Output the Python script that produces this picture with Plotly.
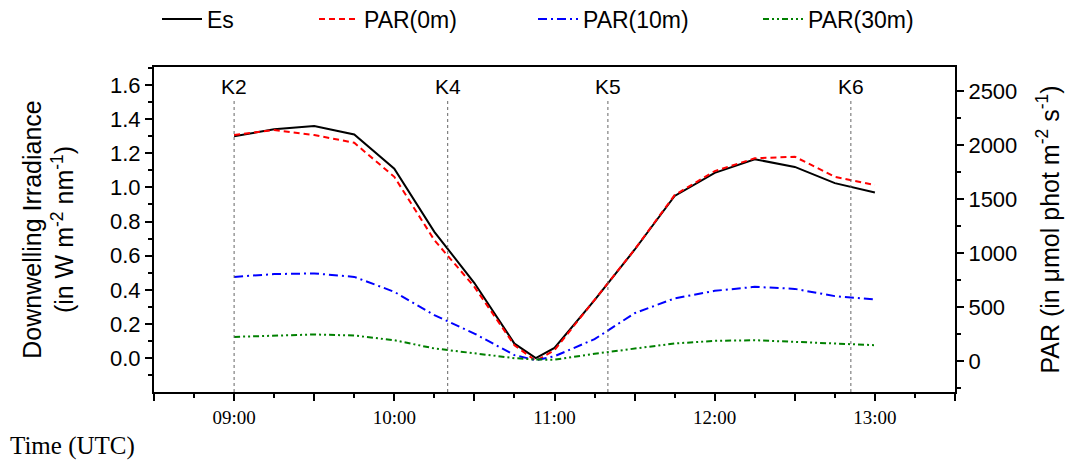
import plotly.graph_objects as go

# ---- data ----
times = ["09:00", "09:15", "09:30", "09:45", "10:00", "10:15", "10:30", "10:45", "10:53",
         "11:00", "11:15", "11:30", "11:45", "12:00", "12:15", "12:30", "12:45", "13:00"]
es = [1.30, 1.34, 1.36, 1.31, 1.11, 0.74, 0.44, 0.085, 0.0,
      0.06, 0.34, 0.635, 0.95, 1.085, 1.165, 1.12, 1.025, 0.97]
par0 = [2093, 2139, 2093, 2021, 1706, 1120, 688, 148, 3,
        102, 567, 1033, 1537, 1759, 1877, 1892, 1706, 1630]
par10 = [780, 806, 812, 780, 642, 426, 256, 56, 9,
         46, 204, 444, 581, 651, 688, 669, 602, 571]
par30 = [225, 238, 247, 238, 194, 118, 75, 28, 15,
         14, 69, 116, 164, 188, 194, 179, 164, 148]
k_labels = ["K2", "K4", "K5", "K6"]
k_times = ["09:00", "10:20", "11:20", "12:51"]

DAY = "2024-01-01 "
xt = [DAY + t for t in times]

SANS = "Liberation Sans"
SERIF = "Liberation Serif"

OFF = 8  # page body margin
W, H = 1068, 454
L, T = 154 - OFF, 67 - OFF
pw, ph = 801, 325
R = W - L - pw
B = H - T - ph


def px_x(p):
    return (p - OFF - L) / pw


def px_y(p):
    return (T + ph - (p - OFF)) / ph


fig = go.Figure()
fig.add_trace(go.Scatter(x=xt, y=es, name="Es", mode="lines",
                         line=dict(color="black", width=2), legend="legend"))
fig.add_trace(go.Scatter(x=xt, y=par0, name="PAR(0m)", mode="lines", yaxis="y2",
                         line=dict(color="red", width=2, dash="6px,4px"), legend="legend2"))
fig.add_trace(go.Scatter(x=xt, y=par10, name="PAR(10m)", mode="lines", yaxis="y2",
                         line=dict(color="blue", width=2, dash="9px,4px,2px,4px"), legend="legend3"))
fig.add_trace(go.Scatter(x=xt, y=par30, name="PAR(30m)", mode="lines", yaxis="y2",
                         line=dict(color="green", width=2, dash="6px,3px,2px,3px,2px,3px"),
                         legend="legend4"))

for lab, kt in zip(k_labels, k_times):
    fig.add_shape(type="line", x0=DAY + kt, x1=DAY + kt, xref="x", yref="paper",
                  y0=0, y1=px_y(100), line=dict(color="#666", width=1, dash="dot"))
    fig.add_annotation(x=DAY + kt, y=px_y(86), xref="x", yref="paper", text=lab,
                       showarrow=False, font=dict(family=SANS, size=21, color="black"),
                       xanchor="center", yanchor="middle")

fig.add_annotation(x=px_x(8), y=px_y(446), xref="paper", yref="paper", text="Time (UTC)",
                   showarrow=False, font=dict(family=SERIF, size=25, color="black"),
                   xanchor="left", yanchor="middle")

leg_common = dict(orientation="h", yanchor="middle", xanchor="left",
                  font=dict(family=SANS, size=23, color="black"),
                  bgcolor="rgba(0,0,0,0)", itemwidth=40, borderwidth=0)
text_starts = [207, 364, 583, 808]
layout_legends = {}
for i, ts in enumerate(text_starts):
    key = "legend" if i == 0 else f"legend{i + 1}"
    layout_legends[key] = dict(leg_common, x=px_x(ts - 50), y=px_y(19))

fig.update_layout(
    width=W, height=H,
    margin=dict(l=L, r=R, t=T, b=B, autoexpand=False),
    paper_bgcolor="white", plot_bgcolor="white",
    showlegend=True,
    **layout_legends,
    xaxis=dict(
        type="date",
        range=[DAY + "08:30", DAY + "13:30"],
        tickmode="linear", tick0=DAY + "09:00", dtick=1800000,
        ticklabelstep=2, tickformat="%H:%M",
        ticks="outside", ticklen=7, tickwidth=2, tickcolor="black",
        minor=dict(dtick=900000, tick0=DAY + "08:45", ticks="outside", ticklen=4,
                   tickwidth=2, tickcolor="black", showgrid=False),
        showline=True, linecolor="black", linewidth=2, mirror=True,
        showgrid=False, zeroline=False,
        tickfont=dict(family=SERIF, size=19, color="black"),
        ticklabelstandoff=0,
    ),
    yaxis=dict(
        range=[-0.198, 1.705],
        tick0=0, dtick=0.2, tickformat=".1f",
        ticks="outside", ticklen=7, tickwidth=2, tickcolor="black",
        minor=dict(dtick=0.1, ticks="outside", ticklen=4, tickwidth=2, tickcolor="black",
                   showgrid=False),
        showline=True, linecolor="black", linewidth=2,
        showgrid=False, zeroline=False,
        tickfont=dict(family=SANS, size=22, color="black"),
        title=dict(text="Downwelling Irradiance<br>(in W m<sup>-2</sup> nm<sup>-1</sup>)",
                   font=dict(family=SANS, size=25, color="black"), standoff=29),
    ),
    yaxis2=dict(
        overlaying="y", side="right",
        range=[-285, 2722],
        tick0=0, dtick=500,
        ticks="outside", ticklen=7, tickwidth=2, tickcolor="black",
        minor=dict(dtick=250, ticks="outside", ticklen=4, tickwidth=2, tickcolor="black",
                   showgrid=False),
        showline=True, linecolor="black", linewidth=2,
        showgrid=False, zeroline=False,
        tickfont=dict(family=SANS, size=22, color="black"),
        title=dict(text="PAR (in μmol phot m<sup>-2</sup> s<sup>-1</sup>)",
                   font=dict(family=SANS, size=25, color="black"), standoff=25),
    ),
)

fig.write_html("out.html")
